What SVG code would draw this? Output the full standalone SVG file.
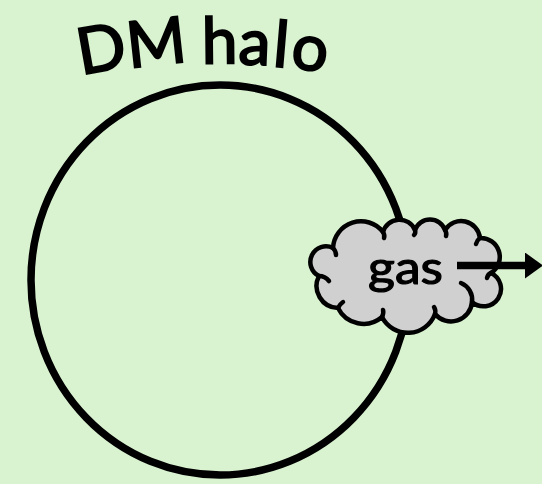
<svg xmlns="http://www.w3.org/2000/svg" width="542" height="484" viewBox="0 0 542 484">
  <style>
    .ink { stroke: #000; fill: none; }
    .label { font-family: Lato, "DejaVu Sans", sans-serif; fill: #000; stroke: #000; }
  </style>
  <defs>
    <marker id="arrowHead" viewBox="0 0 18 26" markerWidth="18" markerHeight="26" markerUnits="userSpaceOnUse" refX="0" refY="13" orient="auto">
      <path d="M0,0 L18,13 L0,26 Z" fill="#000"/>
    </marker>
  </defs>
  <rect x="0" y="0" width="542" height="484" fill="#d9f2d0"/>

  <g id="halo">
    <ellipse cx="220" cy="280" rx="189" ry="195" class="ink" stroke-width="7.5"/>
    <text class="label" font-size="64" stroke-width="2" x="81 129 189 202 238 272 290" y="74.8 67.9 64.5 63.6 64.1 66.2 67.9" rotate="-10 -6.3 -1.6 -0.6 2.2 4.8 6.2">DM halo</text>
  </g>

  <g id="gas">
    <path d="M319,276 A15,15 0 0 1 333,248 A28,28 0 0 1 383,232 A17,17 0 0 1 415,230 A16,16 0 0 1 445,230 A19,19 0 0 1 480,238 A19,19 0 0 1 491,273 A17.5,17.5 0 1 1 472,302 A21,21 0 0 1 435,314 A29,29 0 0 1 382,317 A28.5,28.5 0 0 1 338,308 A22,22 0 0 1 319,276 Z" fill="#d0d0d0" stroke="#000" stroke-width="4.5" stroke-linejoin="round"/>
    <g class="ink" stroke-width="4.5" stroke-linecap="round">
      <path d="M333,248 q3,3 3,7"/>
      <path d="M383,232 q2,3 1,6"/>
      <path d="M415,230 q1,3 -1,5"/>
      <path d="M445,230 q2,3 1,6"/>
      <path d="M480,238 q-3,2 -4,6"/>
      <path d="M491,273 q-3,1 -4,5"/>
      <path d="M461,283 A18,18 0 0 1 472,302"/>
      <path d="M435,314 q1,-4 -1,-7"/>
      <path d="M382,317 q2,-4 1,-7"/>
      <path d="M338,308 q2,-4 5,-6"/>
      <path d="M319,276 q6,0 10,5"/>
    </g>
    <text class="label" x="368" y="284" font-size="46" stroke-width="1.2" textLength="75" lengthAdjust="spacingAndGlyphs">gas</text>
  </g>

  <g id="connectors">
    <line x1="457" y1="265.5" x2="525" y2="265.5" stroke="#000" stroke-width="7.5" marker-end="url(#arrowHead)"/>
  </g>
</svg>
